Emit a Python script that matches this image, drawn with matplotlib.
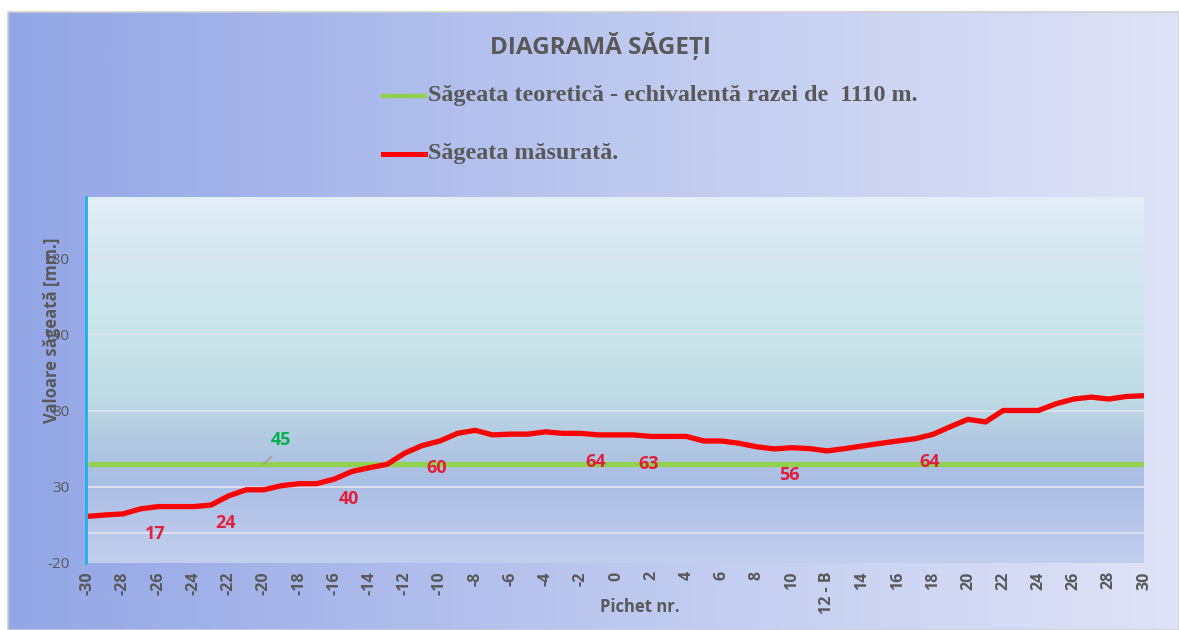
import numpy as np
import matplotlib
matplotlib.use("Agg")
import matplotlib.pyplot as plt
from matplotlib.colors import LinearSegmentedColormap
from matplotlib.lines import Line2D
from matplotlib.patches import Rectangle

# ---------------- data ----------------
pichet = list(range(-30, 31))
pichet_labels = ["12 - B" if p == 12 else str(p) for p in pichet]
sageata_masurata = [
    10.6, 11.5, 12.2, 15.5, 17.0, 17.0, 17.0, 18.0, 24.0, 28.0,   # -30 .. -21
    28.0, 30.7, 32.0, 32.0, 35.0, 40.0, 42.5, 44.7, 52.0, 57.0,   # -20 .. -11
    60.0, 65.0, 67.0, 64.0, 64.5, 64.5, 66.0, 65.0, 65.0, 64.0,   # -10 .. -1
    64.0, 64.0, 63.0, 63.0, 63.0, 60.0, 60.0, 58.5, 56.2, 54.8,   #  0 .. 9
    55.6, 55.0, 53.5, 55.0, 56.7, 58.4, 60.0, 61.5, 64.3, 69.4,   # 10 .. 19
    74.2, 72.5, 80.0, 80.0, 80.0, 84.4, 87.5, 88.8, 87.5, 89.2,   # 20 .. 29
    89.7,                                                         # 30
]
sageata_teoretica = 45
etichete_masurata = [-26, -22, -15, -10, -1, 2, 10, 18]
eticheta_teoretica = -20
y_ticks = [-20, 30, 80, 130, 180]
grid_values = [0, 30, 80, 130, 180]

title = "DIAGRAMĂ SĂGEȚI"
leg_teoretic = "Săgeata teoretică - echivalentă razei de  1110 m."
leg_masurat = "Săgeata măsurată."

W, H = 1179, 630
GRAY = "#595959"
SANS = ["Open Sans", "DejaVu Sans"]
SERIF = ["Liberation Serif", "DejaVu Serif"]

fig = plt.figure(figsize=(W / 100, H / 100), dpi=100)
fig.patch.set_facecolor("white")

def fx(px):
    return px / W

def fy(py):
    return 1 - py / H

# chart background (horizontal gradient)
bg = fig.add_axes([fx(8), 0, 1 - fx(8), fy(12)])
bg.set_axis_off()
bg_cmap = LinearSegmentedColormap.from_list(
    "bg", [(0, "#93a6e6"), (0.5, "#bcc7ef"), (1, "#dfe3f7")])
bg.imshow(np.linspace(0, 1, 256)[None, :], cmap=bg_cmap, aspect="auto",
          extent=[0, 1, 0, 1], interpolation="bicubic")
bg.set_xlim(0, 1)
bg.set_ylim(0, 1)
fig.patches.append(Rectangle((fx(8), 0), 1 - fx(8), fy(12), transform=fig.transFigure,
                             fill=False, edgecolor="#d0d0d0", lw=1.2, zorder=5))

# plot area
ax = fig.add_axes([fx(86), fy(563), fx(1144 - 86), (563 - 197) / H])
pa_cmap = LinearSegmentedColormap.from_list(
    "pa", [(0, "#c2ceee"), (0.22, "#abbee5"), (0.33, "#b2c8e2"), (0.45, "#bfdbe4"),
           (0.65, "#cbe6eb"), (0.85, "#d5e7f1"), (1, "#e4eef8")])
ax.imshow(np.linspace(0, 1, 256)[:, None], cmap=pa_cmap, aspect="auto", origin="lower",
          extent=[0, 1, 0, 1], transform=ax.transAxes, zorder=0, interpolation="bicubic")

for g in grid_values:
    ax.axhline(g, color="#dfe1ea", lw=1.3, zorder=1)

x = np.array(pichet)
ax.plot(x, [sageata_teoretica] * len(x), color="#92d050", lw=3.8,
        solid_capstyle="butt", zorder=3)
ax.plot(x, sageata_masurata, color="#ff0000", lw=3.8, solid_joinstyle="round",
        solid_capstyle="butt", zorder=4)

for p in etichete_masurata:
    v = sageata_masurata[pichet.index(p)]
    ax.annotate(f"{v:.0f}", (p, v), xytext=(-2, -19.5), textcoords="offset points",
                ha="center", va="center", color="#e0203c", fontsize=13,
                fontweight="bold", family=SANS, zorder=6)

ax.annotate(f"{sageata_teoretica}", (eticheta_teoretica, sageata_teoretica),
            xytext=(12, 17), textcoords="offset points", ha="center", va="center",
            color="#00b050", fontsize=13, fontweight="bold", family=SANS, zorder=6,
            arrowprops=dict(arrowstyle="-", color="#a0a0a0", lw=1.4,
                            shrinkA=5, shrinkB=0, relpos=(0.45, 0.0)))

ax.set_xlim(-30.1, 30)
ax.set_ylim(-20, 220)
ax.set_yticks(y_ticks)
ax.set_yticklabels([str(t) for t in y_ticks], color=GRAY, fontsize=11, family=SANS)
ax.set_xticks(pichet[::2])
ax.set_xticklabels(pichet_labels[::2], rotation=90, color=GRAY, fontsize=11.5,
                   fontweight="bold", family=SANS)
ax.tick_params(axis="both", length=0)
ax.tick_params(axis="y", pad=12)
ax.tick_params(axis="x", pad=6)
for s in ["top", "right", "bottom"]:
    ax.spines[s].set_visible(False)
ax.spines["left"].set_color("#1fb0ea")
ax.spines["left"].set_linewidth(2)
ax.spines["left"].set_zorder(7)

# axis titles
fig.text(fx(52), fy(330), "Valoare săgeată [mm.]", rotation=90, ha="center", va="center",
         color=GRAY, fontsize=12, fontweight="bold", family=SANS)
fig.text(fx(640), fy(607), "Pichet nr.", ha="center", va="center",
         color=GRAY, fontsize=12, fontweight="bold", family=SANS)

# title
fig.text(fx(601), fy(46), title, ha="center", va="center", color=GRAY,
         fontsize=17.5, fontweight="bold", family=SANS)

# legend (manual)
fig.lines.append(Line2D([fx(383), fx(425)], [fy(96), fy(96)], transform=fig.transFigure,
                        color="#92d050", lw=3.2))
fig.lines.append(Line2D([fx(383), fx(425)], [fy(154), fy(154)], transform=fig.transFigure,
                        color="#ff0000", lw=3.6))
fig.text(fx(428), fy(96), leg_teoretic, ha="left", va="center", color=GRAY,
         fontsize=17.4, fontweight="bold", family=SERIF)
fig.text(fx(428), fy(154), leg_masurat, ha="left", va="center", color=GRAY,
         fontsize=17.4, fontweight="bold", family=SERIF)

fig.savefig("out.png", dpi=100, facecolor="white")
